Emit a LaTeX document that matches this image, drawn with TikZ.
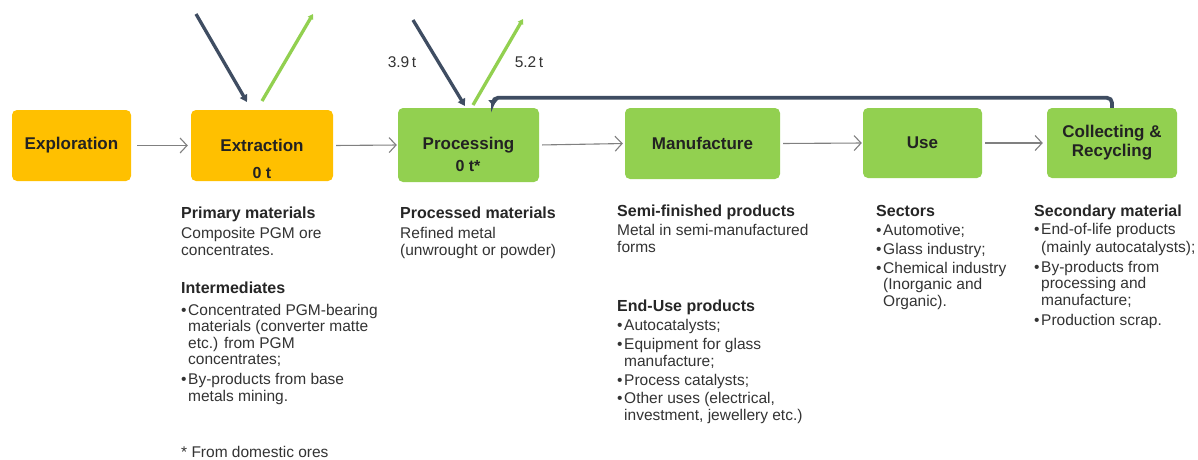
\documentclass[tikz,border=0pt]{standalone}
\usepackage{fontspec}
\setmainfont{Liberation Sans}
\usetikzlibrary{arrows.meta}
\definecolor{orng}{HTML}{FFC000}
\definecolor{grn}{HTML}{92D050}
\definecolor{slate}{HTML}{3F4D62}
\definecolor{conn}{HTML}{808080}
\definecolor{txtc}{HTML}{333333}
\definecolor{boxtxt}{HTML}{222222}
\newcommand{\bl}{\makebox[7pt][l]{\textbullet}}
\newcommand{\ind}{\makebox[7pt]{}}
\newcommand{\hd}[1]{{\fontsize{16}{16.5}\selectfont\bfseries\color{black!85}#1}}
\tikzset{
  stage/.style={rounded corners=5pt, inner sep=0pt, align=center, text=boxtxt,
    font=\fontsize{17}{19}\selectfont\bfseries},
  orangebox/.style={stage, fill=orng},
  greenbox/.style={stage, fill=grn},
  val/.style={inner sep=0pt, text=boxtxt, font=\fontsize{16}{17}\selectfont\bfseries},
  flow/.style={draw=conn, line width=1.1pt, -{Straight Barb[length=7pt,width=15pt,line width=1.1pt]}},
  darkarrow/.style={draw=slate, line width=3.3pt, -{Triangle[length=7pt,width=8pt]}},
  greenarrow/.style={draw=grn, line width=3.3pt, -{Triangle[length=5pt,width=6pt]}},
  feedback/.style={draw=slate, line width=3.8pt, rounded corners=5pt, -{Triangle[length=6pt,width=9pt]}},
  txt/.style={anchor=north west, inner sep=0pt, align=left, text=txtc,
    font=\fontsize{15.5}{16.5}\selectfont},
  amount/.style={inner sep=0pt, text=txtc, font=\fontsize{15.5}{17}\selectfont},
}
\begin{document}
\begin{tikzpicture}[x=1pt,y=-1pt]
\path[use as bounding box, fill=white] (0,0) rectangle (1198,459);

% stage boxes
\node[orangebox, minimum width=119pt, minimum height=71pt] (expl) at (71.5,145.5) {Exploration};
\node[orangebox, minimum width=142pt, minimum height=71pt] (extr) at (262,145.5) {Extraction};
\node[greenbox, minimum width=141pt, minimum height=74pt] (proc) at (468.5,145) {Processing};
\node[greenbox, minimum width=155pt, minimum height=71pt] (manu) at (702.5,143.5) {Manufacture};
\node[greenbox, minimum width=119pt, minimum height=70pt] (use) at (922.5,143) {Use};
\node[greenbox, minimum width=130pt, minimum height=70pt] (coll) at (1112,143) {Collecting \&\\Recycling};

\node[val] (extrval) at (262,173) {0 t};
\node[val] (procval) at (468,166) {0 t*};

% flow connectors
\draw[flow, shorten <=6pt, shorten >=3pt] (expl.east) -- (extr.west);
\draw[flow, shorten <=3pt, shorten >=1pt] (extr.east) -- (proc.west);
\draw[flow, shorten <=3pt, shorten >=2pt] (proc.east) -- (manu.west);
\draw[flow, shorten <=3pt, shorten >=1pt] (manu.east) -- (use.west);
\draw[flow, shorten <=3pt, shorten >=4pt] (use.east) -- (coll.west);

% imports / exports
\coordinate (d1s) at (196,14);
\coordinate (d1e) at (247,102);
\coordinate (g1s) at (262,101);
\coordinate (g1e) at (313,14);
\coordinate (d2s) at (413,20);
\coordinate (d2e) at (465,106);
\coordinate (g2s) at (473,105);
\coordinate (g2e) at (523,19);
\draw[darkarrow] (d1s) -- (d1e);
\draw[greenarrow] (g1s) -- (g1e);
\draw[darkarrow] (d2s) -- (d2e);
\draw[greenarrow] (g2s) -- (g2e);
\node[amount] (imp) at (402,62) {3.9\,t};
\node[amount] (exp) at (529,62) {5.2\,t};

% feedback loop
\coordinate (fbend) at (493,106);
\draw[feedback] (coll.north) -- ++(0,-10) -| (fbend);

% descriptions
\node[txt] (prim) at (181,206.5) {\hd{Primary materials}\\[3.8pt]
Composite PGM ore\\
concentrates.\\[21.5pt]
\hd{Intermediates}\\[5.5pt]
\bl Concentrated PGM-bearing\\
\ind materials (converter matte\\
\ind etc.) from PGM\\
\ind concentrates;\\[3.5pt]
\bl By-products from base\\
\ind metals mining.};

\node[txt] (procd) at (400,206.5) {\hd{Processed materials}\\[3.8pt]
Refined metal\\
(unwrought or powder)};

\node[txt] (semi) at (617,205) {\hd{Semi-finished products}\\[2.5pt]
Metal in semi-manufactured\\
forms\\[42.5pt]
\hd{End-Use products}\\[2.5pt]
\bl Autocatalysts;\\[3pt]
\bl Equipment for glass\\
\ind manufacture;\\[3pt]
\bl Process catalysts;\\[1.5pt]
\bl Other uses (electrical,\\
\ind investment, jewellery etc.)};

\node[txt] (sect) at (876,205) {\hd{Sectors}\\[2.5pt]
\bl Automotive;\\[2.5pt]
\bl Glass industry;\\[2.5pt]
\bl Chemical industry\\
\ind (Inorganic and\\
\ind Organic).};

\node[txt] (secm) at (1034,205) {\hd{Secondary material}\\[1pt]
\bl End-of-life products\\[2pt]
\ind (mainly autocatalysts);\\[3pt]
\bl By-products from\\
\ind processing and\\
\ind manufacture;\\[3.5pt]
\bl Production scrap.};

\node[amount, anchor=base west] (foot) at (181,457) {* From domestic ores};
\end{tikzpicture}
\end{document}
